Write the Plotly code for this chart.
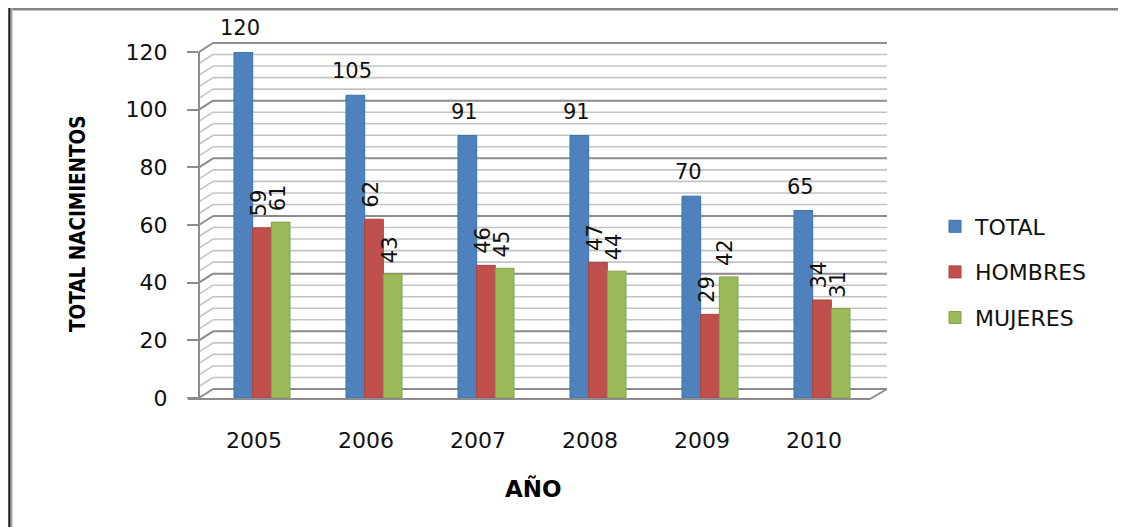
import plotly.graph_objects as go

# ---------------- data ----------------
years = ["2005", "2006", "2007", "2008", "2009", "2010"]
total = [120, 105, 91, 91, 70, 65]
hombres = [59, 62, 46, 47, 29, 34]
mujeres = [61, 43, 45, 44, 42, 31]
series_names = ["TOTAL", "HOMBRES", "MUJERES"]
y_ticks = [0, 20, 40, 60, 80, 100, 120]

# ---------------- geometry (pixels in the screenshot) ----------------
OFF = 8                           # page body margin of the html page
W, H = 1126 - OFF, 527 - OFF
Y0_PX, Y120_PX = 398, 52          # pixel rows of value 0 and 120
K = (Y0_PX - Y120_PX) / 120.0     # pixels per unit
X_L, X_R = 206, 878               # category axis domain
AX_X = 199                        # front vertical axis
DX, DY = 14, 9                    # 3D depth offset
WALL_R = 887

FONT = "DejaVu Sans, Verdana, sans-serif"


def px(x):
    return (x - OFF) / W


def py(y):
    return 1 - (y - OFF) / H


def ypx(v):
    return Y0_PX - v * K


colors = ["#4F81BD", "#C0504D", "#9BBB59"]
edge = ["#3F6FA8", "#A84441", "#86A24B"]
values = [total, hombres, mujeres]

fig = go.Figure()
for name, vals, c, e in zip(series_names, values, colors, edge):
    fig.add_trace(go.Bar(
        name=name, x=years, y=vals, legendgroup=name,
        marker=dict(color=c, line=dict(color=e, width=1)),
    ))

shapes = []
# back wall gridlines + left wall diagonals
for v in range(0, 121, 4):
    major = v % 20 == 0
    col = "#8C8C8C" if major else "#C4C4C4"
    wdt = 2 if major else 1.6
    yb = ypx(v) - DY
    shapes.append(dict(type="line", xref="paper", yref="paper",
                       x0=px(AX_X + DX), x1=px(WALL_R), y0=py(yb), y1=py(yb),
                       line=dict(color=col, width=wdt), layer="below"))
    shapes.append(dict(type="line", xref="paper", yref="paper",
                       x0=px(AX_X), x1=px(AX_X + DX), y0=py(ypx(v)), y1=py(yb),
                       line=dict(color=col, width=wdt), layer="below"))
# floor front edge and right diagonal
shapes.append(dict(type="line", xref="paper", yref="paper",
                   x0=px(188), x1=px(WALL_R - 17), y0=py(Y0_PX + 1), y1=py(Y0_PX + 1),
                   line=dict(color="#8C8C8C", width=2), layer="below"))
shapes.append(dict(type="line", xref="paper", yref="paper",
                   x0=px(WALL_R - 17), x1=px(WALL_R), y0=py(Y0_PX + 1), y1=py(Y0_PX - DY),
                   line=dict(color="#8C8C8C", width=2), layer="below"))
# outer frame (top and left)
shapes.append(dict(type="line", xref="paper", yref="paper",
                   x0=px(9), x1=1, y0=py(9), y1=py(9),
                   line=dict(color="#858585", width=3)))
shapes.append(dict(type="line", xref="paper", yref="paper",
                   x0=px(9.5), x1=px(9.5), y0=py(8), y1=0,
                   line=dict(color="#202020", width=2.5)))
shapes.append(dict(type="line", xref="paper", yref="paper",
                   x0=px(11.5), x1=px(11.5), y0=py(8), y1=0,
                   line=dict(color="#A8A8A8", width=2)))

# data labels (x given as category index)
annotations = []
bar_w = (X_R - X_L) / len(years) * 0.5 / 3
offsets = [-bar_w, 0, bar_w]
label_font = dict(family=FONT, size=21, color="#111111")
for i, vals in enumerate(values):
    for j, v in enumerate(vals):
        annotations.append(dict(
            x=j, y=v, xref="x", yref="y", text=str(v), showarrow=False,
            xanchor="center", yanchor="bottom",
            xshift=offsets[i] - 3, yshift=10 if i == 0 else 9,
            textangle=0 if i == 0 else -90, font=label_font,
        ))

annotations.append(dict(
    x=px(78), y=py(224), xref="paper", yref="paper", text="TOTAL NACIMIENTOS",
    showarrow=False, textangle=-90, xanchor="center", yanchor="middle",
    font=dict(family="Liberation Sans Narrow, DejaVu Sans Condensed, Arial Narrow, sans-serif",
              size=20.5, color="#000000", weight="bold"),
))
annotations.append(dict(
    x=px(533), y=py(488), xref="paper", yref="paper", text="AÑO",
    showarrow=False, xanchor="center", yanchor="middle",
    font=dict(family=FONT, size=23, color="#000000", weight="bold"),
))

fig.update_layout(
    width=W, height=H,
    margin=dict(l=0, r=0, t=0, b=0, pad=0, autoexpand=False),
    paper_bgcolor="white", plot_bgcolor="rgba(0,0,0,0)",
    barmode="group", bargap=0.5, bargroupgap=0,
    shapes=shapes, annotations=annotations,
    showlegend=True,
    legend=dict(
        x=px(935), y=py(272), xanchor="left", yanchor="middle",
        font=dict(family=FONT, size=22, color="#111111"),
        tracegroupgap=14, bgcolor="rgba(0,0,0,0)",
    ),
    xaxis=dict(
        type="category", automargin=False, range=[-0.5, len(years) - 0.5],
        domain=[px(X_L), px(X_R)], anchor="y",
        showgrid=False, zeroline=False, showline=False,
        ticks="", ticklabelstandoff=27, ticklabelshift=-8,
        tickfont=dict(family=FONT, size=22, color="#111111"),
        fixedrange=True,
    ),
    yaxis=dict(
        automargin=False,
        domain=[py(Y0_PX), py(Y120_PX)], range=[0, 120],
        anchor="free", position=px(AX_X),
        tickvals=y_ticks, showgrid=False, zeroline=False,
        showline=True, linecolor="#8C8C8C", linewidth=2,
        ticks="outside", ticklen=11, tickcolor="#8C8C8C", tickwidth=2,
        ticklabelstandoff=15,
        tickfont=dict(family=FONT, size=22, color="#111111"),
        fixedrange=True,
    ),
)

fig.write_html("out.html")
